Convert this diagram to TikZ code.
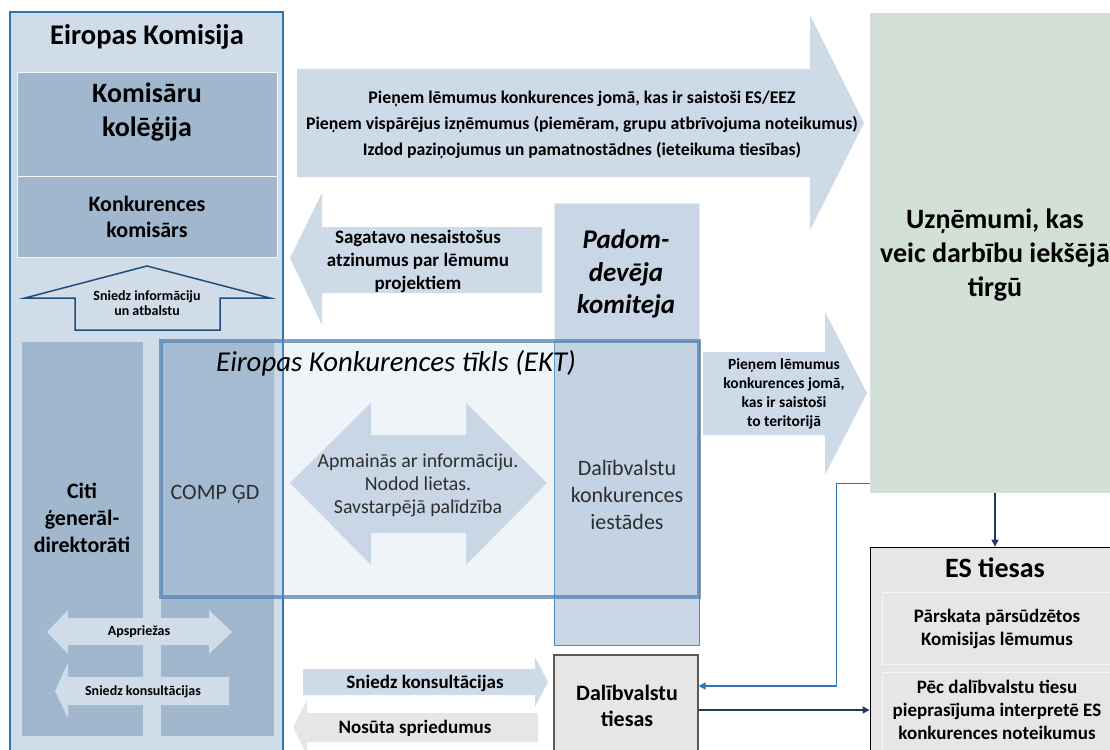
\documentclass[tikz,border=0pt]{standalone}
\usepackage{fontspec}
\setmainfont{Carlito}
\usetikzlibrary{arrows.meta}
\definecolor{ekfill}{RGB}{208,220,232}
\definecolor{ekline}{RGB}{46,117,182}
\definecolor{dgblue}{RGB}{160,183,206}
\definecolor{ltblue}{RGB}{200,214,229}
\definecolor{arrowblue}{RGB}{205,218,231}
\definecolor{ektfill}{RGB}{183,204,225}
\definecolor{ektline}{RGB}{84,130,176}
\definecolor{uzngreen}{RGB}{210,224,215}
\definecolor{courtgray}{RGB}{230,230,230}
\definecolor{navy}{RGB}{31,56,100}
\definecolor{upline}{RGB}{31,78,121}
\def\fnt#1#2{\fontsize{#1}{#2}\selectfont}
\tikzset{
  lbl/.style={align=center, inner sep=0pt},
  txtgray/.style={lbl, text=black!82},
  link/.style={-{Triangle[length=7pt,width=7pt]}, line width=1.2pt}
}

\begin{document}
\begin{tikzpicture}[x=1pt,y=-1pt]
		%%%%% START %%%%%
		\useasboundingbox (0,0) rectangle (1110,749);
		\clip (0,0) rectangle (1110,749);
		
		% Eiropas Komisija
		\fill[ekfill] (10,12) rectangle (283,760);
		\draw[fill=dgblue, draw=white!85!dgblue] (17,72) rectangle (277,176);
		\draw[fill=dgblue, draw=white!85!dgblue] (17,176) rectangle (277,257);
		\draw[line width=1.5pt, color=upline, fill=ekfill] (147,266) -- (270,298) -- (220,298) -- (220,330) -- (75,330) -- (75,298) -- (25,298) -- cycle;
		\fill[dgblue] (22,342) rectangle (143,736);
		\fill[dgblue] (161,342) rectangle (274,736);
		\fill[ekfill] (47,632) -- (68,610) -- (68,618) -- (209,618) -- (209,610) -- (232,632) -- (209,654) -- (209,645) -- (68,645) -- (68,654) -- cycle;
		\fill[ekfill] (55,691) -- (68,663) -- (68,677) -- (229,677) -- (229,705) -- (68,705) -- (68,718) -- cycle;
		\draw[line width=2.5pt, color=ekline] (10,12) rectangle (283,760);
		
		% lielas bultas
		\fill[arrowblue] (297,69) -- (810,69) -- (810,15) -- (864,123) -- (810,230) -- (810,177) -- (297,177) -- cycle;
		\fill[arrowblue] (542,227) -- (322,227) -- (322,193) -- (290,258) -- (322,325) -- (322,293) -- (542,293) -- cycle;
		\fill[arrowblue] (703,352) -- (825,352) -- (825,312) -- (867,393) -- (825,475) -- (825,435) -- (703,435) -- cycle;
		
		% Padomdevēja komiteja un dalībvalstis
		\draw[fill=ltblue, draw=black!8] (554,203) rectangle (699,341);
		\draw[fill=ltblue, draw=ekline!85, line width=0.8pt] (554,341) rectangle (699,645);
		
		% EKT
		\fill[arrowblue] (290,483) -- (371,403) -- (371,435) -- (466,435) -- (466,403) -- (547,483) -- (466,565) -- (466,533) -- (371,533) -- (371,565) -- cycle;
		\draw[line width=4pt, draw=ektline, draw opacity=0.75, fill=ektfill, fill opacity=0.22] (161,341) rectangle (699,597);
		
		% uzņēmumi un tiesas
		\node[fill=uzngreen, minimum width=250pt, minimum height=480pt, inner sep=0pt] (uzn) at (995,253) {};
		\node[draw=black, line width=0.8pt, fill=courtgray, minimum width=250pt, minimum height=223pt, inner sep=0pt] (estiesas) at (995,658.5) {};
		\draw[fill=courtgray, draw=white!60!courtgray] (882,592) rectangle (1120,664);
		\draw[fill=courtgray, draw=white!60!courtgray] (882,672) rectangle (1120,765);
		\node[draw=black!65, line width=1.2pt, fill=courtgray, minimum width=144pt, minimum height=110pt, inner sep=0pt] (dvtiesas) at (626,710) {};
		\fill[arrowblue] (303,669) -- (535,669) -- (535,657) -- (548,682) -- (535,707) -- (535,695) -- (303,695) -- cycle;
		\fill[courtgray] (538,713) -- (307,713) -- (307,700) -- (293,727) -- (307,755) -- (307,742) -- (538,742) -- cycle;
		
		% savienojumi
		\draw[link, color=navy] (uzn.south) -- (estiesas.north);
		\draw[link, color=navy] (dvtiesas.east) -- (dvtiesas.east -| estiesas.west);
		\draw[link, color=ekline] ([yshift=10pt]uzn.south west) -- ++(-33,0) |- ([yshift=24pt]dvtiesas.east);
		
		% teksti
		\node[lbl, font=\fnt{28.5}{32}\bfseries] (ektitle) at (147,37) {Eiropas Komisija};
		\node[lbl, font=\fnt{28}{34}\bfseries] (kolegija) at (147,112) {Komisāru\\kolēģija};
		\node[lbl, font=\fnt{22}{26}\bfseries] (komisars) at (147,217) {Konkurences\\komisārs};
		\node[lbl, font=\fnt{14}{15}\bfseries] (info) at (147,303) {Sniedz informāciju\\un atbalstu};
		\node[lbl, font=\fnt{22}{27}\bfseries] (citi) at (82,518) {Citi\\ģenerāl-\\direktorāti};
		\node[txtgray, font=\fnt{22}{27}] (comp) at (215,494) {COMP ĢD};
		\node[lbl, font=\fnt{14}{16}\bfseries] (apsp) at (139,632) {Apspriežas};
		\node[lbl, font=\fnt{14}{16}\bfseries] (konsult) at (143,692) {Sniedz konsultācijas};
		
		\node[lbl, font=\fnt{17.8}{26}\bfseries] (lemumi) at (582,125) {Pieņem lēmumus konkurences jomā, kas ir saistoši ES/EEZ\\Pieņem vispārējus izņēmumus (piemēram, grupu atbrīvojuma noteikumus)\\Izdod paziņojumus un pamatnostādnes (ieteikuma tiesības)};
		\node[lbl, font=\fnt{19}{23}\bfseries] (sagatavo) at (418,261) {Sagatavo nesaistošus\\atzinumus par lēmumu\\projektiem};
		\node[lbl, font=\fnt{27}{32.5}\bfseries\itshape] (padom) at (626,274) {Padom-\\devēja\\komiteja};
		\node[lbl, font=\fnt{28.8}{32}\itshape] (ekt) at (396,363) {Eiropas Konkurences tīkls (EKT)};
		\node[txtgray, font=\fnt{19.8}{23}] (apmainas) at (418,485) {Apmainās ar informāciju.\\Nodod lietas.\\Savstarpējā palīdzība};
		\node[txtgray, font=\fnt{22}{27}] (dvkonk) at (627,495) {Dalībvalstu\\konkurences\\iestādes};
		\node[lbl, font=\fnt{15.5}{19}\bfseries] (teritorija) at (784,394) {Pieņem lēmumus\\konkurences jomā,\\kas ir saistoši\\to teritorijā};
		\node[lbl, font=\fnt{28}{34}\bfseries] (uzntxt) at (995,255) {Uzņēmumi, kas\\veic darbību iekšējā\\tirgū};
		\node[lbl, font=\fnt{28}{32}\bfseries] (estitle) at (995,568) {ES tiesas};
		\node[lbl, font=\fnt{19}{23}\bfseries] (parskata) at (997,629) {Pārskata pārsūdzētos\\Komisijas lēmumus};
		\node[lbl, font=\fnt{19}{23}\bfseries] (pec) at (997,710) {Pēc dalībvalstu tiesu\\pieprasījuma interpretē ES\\konkurences noteikumus};
		\node[lbl, font=\fnt{22}{26}\bfseries] (dvtxt) at (627,706) {Dalībvalstu\\tiesas};
		\node[lbl, font=\fnt{19}{23}\bfseries] (konsult2) at (425,683) {Sniedz konsultācijas};
		\node[lbl, font=\fnt{19}{23}\bfseries] (nosuta) at (415,728) {Nosūta spriedumus};
		
		%%%%% END %%%%%
\end{tikzpicture}
\end{document}
